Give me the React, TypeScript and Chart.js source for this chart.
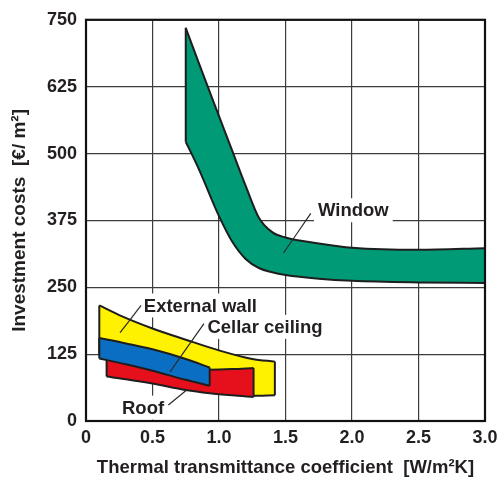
import React, { useEffect, useRef } from 'react';
import { Chart, registerables } from 'chart.js';

Chart.register(...registerables);

// ---- Axis ticks ----
const xTickValues = [0, 0.5, 1.0, 1.5, 2.0, 2.5, 3.0];
const xTickLabels = ['0', '0.5', '1.0', '1.5', '2.0', '2.5', '3.0'];
const yTickValues = [0, 125, 250, 375, 500, 625, 750];
const yTickLabels = ['0', '125', '250', '375', '500', '625', '750'];

const xTitle = 'Thermal transmittance coefficient  [W/m²K]';
const yTitle = 'Investment costs  [€/ m²]';

// ---- Window band ----
const windowX = [0.75, 0.85, 1.0, 1.1, 1.2, 1.3, 1.4, 1.5, 1.75, 2.0, 2.5, 3.0];
const windowUpper = [735, 668, 570, 505, 440, 380, 353, 343, 332, 324, 320, 323];
const windowLower = [522, 470, 383, 335, 303, 286, 278, 273, 266, 262, 259, 258];

// ---- External wall band (yellow) ----
const wallX = [0.1, 0.25, 0.5, 0.75, 1.0, 1.25, 1.42];
const wallUpper = [216, 198, 173, 152, 132, 116, 111];
const wallLower = [125, 100, 80, 65, 55, 47, 48];

// ---- Cellar ceiling band (blue) ----
const cellarX = [0.1, 0.3, 0.5, 0.75, 0.93];
const cellarUpper = [155, 145, 134, 116, 100];
const cellarLower = [117, 106, 94, 77, 66];

// ---- Roof band (red) ----
const roofX = [0.155, 0.3, 0.5, 0.75, 0.93, 1.1, 1.26];
const roofUpper = [125, 118, 108, 100, 96, 97, 99];
const roofLower = [83, 78, 70, 58, 52, 48, 45];

// ---- Labels ----
const labelTexts = ['Window', 'External wall', 'Cellar ceiling', 'Roof'];
const labelX = [2.01, 0.86, 1.346, 0.429];
const labelY = [394, 216, 176, 25];

// leader lines: [x1, y1, x2, y2]
const leaderWindow = [1.69, 388, 1.485, 314];
const leaderWall = [0.414, 216, 0.256, 165];
const leaderCellar = [0.887, 182, 0.632, 92];
const leaderRoof = [0.619, 30, 0.757, 58];

const COLORS = {
  window: '#009a77',
  wall: '#fff200',
  cellar: '#0a6fc2',
  roof: '#e5101c',
  outline: '#1e1e1e',
  grid: '#3c3c3c',
  text: '#231f20',
};

const FONT = '"Liberation Sans", Arial, Helvetica, sans-serif';

function pts(xs: number[], ys: number[]) {
  return xs.map((x, i) => ({ x, y: ys[i] }));
}

export default function App() {
  const canvasRef = useRef<HTMLCanvasElement | null>(null);

  useEffect(() => {
    const canvas = canvasRef.current;
    if (!canvas) return;

    const datasets: any[] = [];
    const line = (data: any[], extra: any = {}) => {
      datasets.push({
        type: 'line',
        data,
        borderColor: COLORS.outline,
        borderWidth: 2,
        pointRadius: 0,
        fill: false,
        cubicInterpolationMode: 'monotone',
        ...extra,
      });
      return datasets.length - 1;
    };

    // leader lines (top-most)
    [leaderWindow, leaderWall, leaderCellar, leaderRoof].forEach((l) => {
      line([{ x: l[0], y: l[1] }, { x: l[2], y: l[3] }], { borderWidth: 1.2, borderColor: '#2a2a2a' });
    });

    const band = (xs: number[], up: number[], lo: number[], color: string, leftEdge: boolean, rightEdge: boolean) => {
      if (leftEdge) line([{ x: xs[0], y: lo[0] }, { x: xs[0], y: up[0] }]);
      if (rightEdge) {
        const n = xs.length - 1;
        line([{ x: xs[n], y: lo[n] }, { x: xs[n], y: up[n] }]);
      }
      const lowIdx = line(pts(xs, lo));
      line(pts(xs, up), { fill: { target: lowIdx }, backgroundColor: color });
    };

    band(windowX, windowUpper, windowLower, COLORS.window, true, false);
    band(cellarX, cellarUpper, cellarLower, COLORS.cellar, true, true);
    band(roofX, roofUpper, roofLower, COLORS.roof, true, true);
    band(wallX, wallUpper, wallLower, COLORS.wall, true, true);

    const labelPlugin = {
      id: 'labels',
      beforeDatasetsDraw(chart: any) {
        const { ctx, scales } = chart;
        ctx.save();
        ctx.font = `bold 18.5px ${FONT}`;
        ctx.textAlign = 'center';
        ctx.textBaseline = 'middle';
        labelTexts.forEach((t, i) => {
          const px = scales.x.getPixelForValue(labelX[i]);
          const py = scales.y.getPixelForValue(labelY[i]);
          const w = ctx.measureText(t).width;
          ctx.fillStyle = '#ffffff';
          ctx.fillRect(px - w / 2 - 4, py - 12, w + 8, 24);
          ctx.fillStyle = COLORS.text;
          ctx.fillText(t, px, py + 1);
        });
        ctx.restore();
      },
      afterDraw(chart: any) {
        const { ctx, chartArea } = chart;
        ctx.save();
        ctx.strokeStyle = '#111111';
        ctx.lineWidth = 2.2;
        ctx.strokeRect(chartArea.left, chartArea.top, chartArea.right - chartArea.left, chartArea.bottom - chartArea.top);
        ctx.restore();
      },
    };

    const chart = new Chart(canvas, {
      type: 'line',
      data: { datasets },
      options: {
        animation: false,
        responsive: false,
        events: [],
        layout: { padding: { top: 19, right: 13, left: 0, bottom: 0 } },
        plugins: {
          legend: { display: false },
          tooltip: { enabled: false },
          title: { display: false },
        },
        elements: { line: { tension: 0 } },
        scales: {
          x: {
            type: 'linear',
            min: 0,
            max: 3,
            afterBuildTicks: (s: any) => {
              s.ticks = xTickValues.map((v) => ({ value: v }));
            },
            afterFit: (s: any) => {
              s.height = 57;
              s.paddingRight = 13;
              s.paddingLeft = 0;
            },
            grid: { color: COLORS.grid, lineWidth: 1.2, drawTicks: false },
            border: { display: false },
            ticks: {
              padding: 6,
              color: COLORS.text,
              font: { family: FONT, size: 18, weight: 'bold' },
              maxRotation: 0,
              autoSkip: false,
              callback: (v: any) => {
                const i = xTickValues.indexOf(Number(v));
                return i >= 0 ? xTickLabels[i] : '';
              },
            },
            title: {
              display: true,
              text: xTitle,
              color: COLORS.text,
              font: { family: FONT, size: 18.5, weight: 'bold', lineHeight: 1 },
              padding: { top: 0, bottom: 1 },
            },
          },
          y: {
            type: 'linear',
            min: 0,
            max: 750,
            afterBuildTicks: (s: any) => {
              s.ticks = yTickValues.map((v) => ({ value: v }));
            },
            afterFit: (s: any) => {
              s.width = 86;
            },
            grid: { color: COLORS.grid, lineWidth: 1.2, drawTicks: false },
            border: { display: false },
            ticks: {
              padding: 9,
              color: COLORS.text,
              font: { family: FONT, size: 18, weight: 'bold' },
              autoSkip: false,
              callback: (v: any) => {
                const i = yTickValues.indexOf(Number(v));
                return i >= 0 ? yTickLabels[i] : '';
              },
            },
            title: {
              display: true,
              text: yTitle,
              color: COLORS.text,
              font: { family: FONT, size: 19, weight: 'bold', lineHeight: 1 },
              padding: { top: 10.5, bottom: 0 },
            },
          },
        },
      } as any,
      plugins: [labelPlugin],
    });

    return () => {
      chart.destroy();
    };
  }, []);

  return (
    <div style={{ position: 'fixed', left: 0, top: 0, width: 498, height: 478, background: '#ffffff' }}>
      <canvas ref={canvasRef} width={498} height={478} style={{ display: 'block', width: 498, height: 478 }} />
    </div>
  );
}
